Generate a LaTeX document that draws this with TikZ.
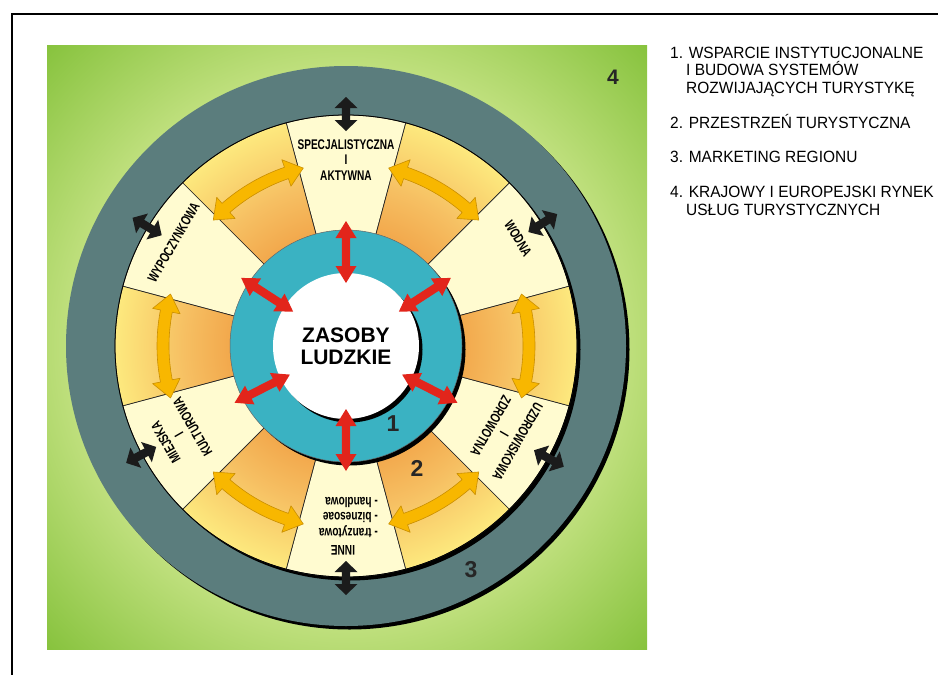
\documentclass[tikz,border=0pt]{standalone}
\usepackage{fontspec}
\setmainfont{Liberation Sans}
\usepackage{graphicx}
\definecolor{gIn}{HTML}{E2F2B8}
\definecolor{gMid}{HTML}{C0E07E}
\definecolor{gOut}{HTML}{84C13A}
\definecolor{ringgray}{HTML}{5B7D7D}
\definecolor{cream}{HTML}{FFFBD0}
\definecolor{orA}{HTML}{F2A84C}
\definecolor{orB}{HTML}{F6BF62}
\definecolor{orC}{HTML}{FDE97E}
\definecolor{tealc}{HTML}{3AB2C2}
\definecolor{redc}{HTML}{E2251B}
\definecolor{goldc}{HTML}{F8B700}
\definecolor{goldedge}{HTML}{C98E00}
\definecolor{darkarrow}{HTML}{1B1B1B}
\definecolor{numc}{HTML}{262626}
\pgfdeclareradialshading{orangering}{\pgfpoint{0bp}{0bp}}{color(0bp)=(orA); color(12.5bp)=(orA); color(17.5bp)=(orB); color(25bp)=(orC); color(50bp)=(orC)}
\pgfdeclareradialshading{greenbg}{\pgfpoint{0bp}{0bp}}{color(0bp)=(gIn); color(23bp)=(gMid); color(36bp)=(gOut); color(50bp)=(gOut)}
\newcommand{\nar}[1]{\scalebox{0.72}[1]{#1}}
\newcommand{\leg}[1]{\scalebox{0.95}[1]{#1}}
\newcommand{\dblarr}[7]{%
  \begin{scope}[rotate=#2]
    \pgfmathsetmacro{\pa}{#3-#4/2}\pgfmathsetmacro{\pb}{#3+#4/2}
    \pgfmathsetmacro{\pc}{\pa+#5}\pgfmathsetmacro{\pd}{\pb-#5}
    \fill[#1] (\pa,0) -- (\pc,#6) -- (\pc,#7) -- (\pd,#7) -- (\pd,#6) -- (\pb,0)
      -- (\pd,-#6) -- (\pd,-#7) -- (\pc,-#7) -- (\pc,-#6) -- cycle;
  \end{scope}}
\newcommand{\ylwarr}[1]{%
  \pgfmathsetmacro{\ta}{#1-16.5}\pgfmathsetmacro{\tb}{#1+16.5}
  \pgfmathsetmacro{\tA}{#1-11}\pgfmathsetmacro{\tB}{#1+11}
  \filldraw[fill=goldc, draw=goldedge, line width=0.6, line join=round]
    (\ta:183) -- (\tA:197) -- (\tA:189) arc[start angle=\tA, end angle=\tB, radius=189]
    -- (\tB:197) -- (\tb:183) -- (\tB:169) -- (\tB:177)
    arc[start angle=\tB, end angle=\tA, radius=177] -- (\tA:169) -- cycle;}
\begin{document}
\begin{tikzpicture}[x=1pt,y=1pt,
  lbl/.style={font=\bfseries\fontsize{14}{15.5}\selectfont, align=center, inner sep=0pt, text=black},
  num/.style={font=\bfseries\fontsize{23}{23}\selectfont, text=numc, inner sep=0pt},
  legend/.style={font=\fontsize{16.3}{17.7}\selectfont, anchor=base west, inner sep=0pt, align=left, text=black}]
\useasboundingbox (0,0) rectangle (938,-675);
\draw[line width=2.2] (12,-690) -- (12,-14.3) -- (950,-14.3);
\shade[shading=greenbg] (47,-45) rectangle (647,-649);
\begin{scope}[shift={(346,-346)}]
  % ring 4 / 3
  \fill[black] (3.5,-3.5) circle (280);
  \fill[ringgray] (0,0) circle (280);
  % ring 2
  \fill[black] (3.5,-3.5) circle (231);
  \foreach \c in {90,30,-30,-90,-150,150}{
    \pgfmathsetmacro{\sa}{\c-15}\pgfmathsetmacro{\ea}{\c+15}
    \filldraw[fill=cream, draw=black!85, line width=0.7]
      (0,0) -- (\sa:231) arc[start angle=\sa, end angle=\ea, radius=231] -- cycle;}
  \foreach \c in {60,0,-60,-120,180,120}{
    \pgfmathsetmacro{\sa}{\c-15}\pgfmathsetmacro{\ea}{\c+15}
    \begin{scope}
      \clip (0,0) -- (\sa:231) arc[start angle=\sa, end angle=\ea, radius=231] -- cycle;
      \shade[shading=orangering] (0,0) circle (231);
    \end{scope}
    \draw[black!85, line width=0.7]
      (0,0) -- (\sa:231) arc[start angle=\sa, end angle=\ea, radius=231] -- cycle;}
  \draw[line width=0.8] (0,0) circle (231);
  % ring 1
  \fill[black] (3.5,-3.5) circle (116);
  \filldraw[fill=tealc, draw=black!60, line width=0.5] (0,0) circle (116);
  \fill[black] (3.5,-3.5) circle (73);
  \fill[white] (0,0) circle (73);
  % curved yellow arrows
  \foreach \c in {60,0,-60,-120,180,120}{\ylwarr{\c}}
  % black double arrows
  \foreach \a in {90,32,-29,-90,-152,149}{\dblarr{darkarrow}{\a}{232}{34}{11}{11.5}{4.2}}
  % red double arrows
  \foreach \a in {90,33,-27,-90,-153,147}{\dblarr{redc}{\a}{94}{62}{17}{10.5}{4.2}}
  % labels
  \node[lbl] (spec) at (90:186) {\nar{SPECJALISTYCZNA}\\\nar{I}\\\nar{AKTYWNA}};
  \node[lbl, rotate=-59] (wodna) at (32:203) {\nar{WODNA}};
  \node[lbl, rotate=-120] (uzdr) at (-29:181) {\nar{UZDROWISKOWA}\\\nar{I}\\\nar{ZDROWOTNA}};
  \node[lbl, rotate=180] (inne) at (-3,-204) {\nar{INNE}};
  \node[lbl, rotate=180, anchor=west, align=left] (innesub) at (32,-171) {\nar{- tranzytowa}\\\nar{- biznesoae}\\\nar{- handlowa}};
  \node[lbl, rotate=120] (miej) at (-152:189) {\nar{MIEJSKA}\\\nar{I}\\\nar{KULTUROWA}};
  \node[lbl, rotate=60] (wypo) at (149:201) {\nar{WYPOCZYNKOWA}};
  \node[font=\bfseries\fontsize{21}{22}\selectfont, align=center, inner sep=0pt] (zasoby) at (0,0) {ZASOBY\\LUDZKIE};
\end{scope}
% ring numbers
\node[num] (n1) at (393,-424) {1};
\node[num] (n2) at (417,-468) {2};
\node[num] (n3) at (471,-570) {3};
\node[num, font=\bfseries\fontsize{21}{21}\selectfont] (n4) at (613,-77) {4};
% legend
\node[legend] (l1) at (670,-58) {\leg{1. WSPARCIE INSTYTUCJONALNE}};
\node[legend] (l1b) at (686,-75.5) {\leg{I BUDOWA SYSTEMÓW}};
\node[legend] (l1c) at (686,-93.5) {\leg{ROZWIJAJĄCYCH TURYSTYKĘ}};
\node[legend] (l2) at (670,-128.5) {\leg{2. PRZESTRZEŃ TURYSTYCZNA}};
\node[legend] (l3) at (670,-162.5) {\leg{3. MARKETING REGIONU}};
\node[legend] (l4) at (670,-197) {\leg{4. KRAJOWY I EUROPEJSKI RYNEK}};
\node[legend] (l4b) at (686,-215.5) {\leg{USŁUG TURYSTYCZNYCH}};
\end{tikzpicture}
\end{document}
